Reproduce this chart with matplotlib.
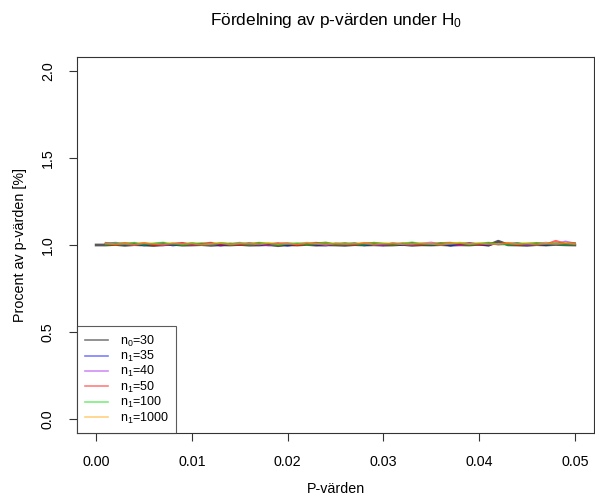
import matplotlib
matplotlib.use("Agg")
import matplotlib.pyplot as plt
import numpy as np

plt.rcParams['font.family'] = ['Liberation Sans', 'DejaVu Sans']
plt.rcParams['mathtext.default'] = 'regular'

# p-värden (mitt i varje intervall)
p_bins = np.linspace(0.001, 0.050, 50)
p_bins0 = np.concatenate([[0.0], p_bins])

n0_30 = [1.000,
         1.000, 1.003, 0.998, 1.002, 1.000, 0.997, 1.001, 1.004, 0.999, 1.000,
         1.002, 0.998, 1.001, 1.000, 1.003, 0.999, 1.000, 1.002, 0.996, 1.001,
         1.000, 1.003, 0.999, 1.001, 1.000, 0.998, 1.002, 1.000, 1.001, 0.999,
         1.000, 1.003, 0.998, 1.001, 1.000, 1.002, 0.999, 1.001, 1.000, 1.004,
         0.999, 1.022, 1.001, 1.000, 0.998, 1.002, 1.000, 1.003, 1.001, 1.000]
n1_35 = [1.012, 1.008, 1.003, 1.010, 0.998, 1.006, 1.011, 0.997, 1.004, 1.009,
         1.002, 1.010, 0.996, 1.007, 1.003, 1.012, 0.999, 1.005, 1.008, 0.995,
         1.006, 1.010, 1.001, 0.997, 1.009, 1.004, 1.011, 0.998, 1.006, 1.002,
         1.008, 0.999, 1.012, 1.004, 1.000, 1.009, 0.996, 1.007, 1.011, 1.003,
         0.998, 1.014, 1.005, 1.009, 1.001, 1.007, 0.999, 1.010, 1.004, 1.006]
n1_40 = [1.005, 1.013, 1.007, 1.000, 1.011, 1.004, 0.998, 1.009, 1.012, 1.001,
         1.007, 0.999, 1.010, 1.005, 1.013, 1.002, 1.008, 0.997, 1.006, 1.011,
         1.003, 1.009, 1.013, 1.000, 1.006, 1.010, 1.002, 1.012, 1.004, 0.998,
         1.011, 1.006, 1.001, 1.009, 1.014, 1.003, 1.008, 1.000, 1.010, 1.005,
         1.012, 1.002, 1.007, 1.011, 0.999, 1.008, 1.013, 1.004, 1.020, 1.009]
n1_50 = [1.008, 1.001, 1.012, 1.006, 1.010, 0.999, 1.007, 1.004, 1.011, 1.003,
         1.009, 1.013, 1.002, 1.008, 1.000, 1.006, 1.012, 1.004, 1.010, 1.007,
         0.999, 1.005, 1.011, 1.013, 1.003, 1.008, 1.001, 1.009, 1.012, 1.006,
         1.002, 1.010, 1.007, 1.000, 1.006, 1.011, 1.013, 1.004, 1.008, 1.001,
         1.009, 1.005, 1.012, 1.002, 1.007, 1.010, 1.004, 1.024, 1.008, 1.011]
n1_100 = [1.004, 1.010, 1.006, 1.013, 1.002, 1.009, 1.014, 1.005, 1.001, 1.011,
          1.008, 1.003, 1.012, 1.007, 1.010, 1.004, 1.013, 1.009, 1.001, 1.006,
          1.011, 1.003, 1.008, 1.014, 1.005, 1.010, 1.007, 1.002, 1.013, 1.009,
          1.004, 1.008, 1.015, 1.006, 1.003, 1.010, 1.007, 1.012, 1.004, 1.009,
          1.013, 1.006, 1.002, 1.010, 1.008, 1.012, 1.005, 1.009, 1.003, 1.007]
n1_1000 = [1.010, 1.004, 1.008, 1.002, 1.012, 1.007, 1.003, 1.011, 1.006, 1.009,
           1.001, 1.007, 1.011, 1.004, 1.008, 1.010, 1.003, 1.012, 1.006, 1.009,
           1.004, 1.013, 1.007, 1.002, 1.010, 1.005, 1.009, 1.012, 1.003, 1.008,
           1.011, 1.004, 1.006, 1.010, 1.007, 1.002, 1.009, 1.013, 1.006, 1.010,
           1.004, 1.008, 1.011, 1.005, 1.009, 1.003, 1.010, 1.007, 1.012, 1.006]

serier = [n1_35, n1_40, n1_50, n1_100, n1_1000]
etiketter = [r'n$_0$=30', r'n$_1$=35', r'n$_1$=40', r'n$_1$=50',
             r'n$_1$=100', r'n$_1$=1000']
farger = ['#0000FF', '#A020F0', '#FF0000', '#00DD00', '#FFA500']

fig = plt.figure(figsize=(5.95, 4.97), dpi=100)
ax = fig.add_axes([77 / 595, 64 / 497, 517 / 595, 376 / 497])

linjer = []
l0, = ax.plot(p_bins0, n0_30, color='black', lw=2, alpha=0.65)
linjer.append(l0)
for y, c in zip(serier, farger):
    l, = ax.plot(p_bins, y, color=c, lw=1.4, alpha=0.6)
    linjer.append(l)

ax.set_xlim(-0.002, 0.052)
ax.set_ylim(-0.08, 2.08)
ax.set_xticks([0.00, 0.01, 0.02, 0.03, 0.04, 0.05])
ax.set_xticklabels(['0.00', '0.01', '0.02', '0.03', '0.04', '0.05'])
ax.set_yticks([0.0, 0.5, 1.0, 1.5, 2.0])
ax.set_yticklabels(['0.0', '0.5', '1.0', '1.5', '2.0'], rotation=90, va='center')
ax.tick_params(direction='out', length=6, width=0.8, labelsize=10.3,
               color='#333333', pad=10)
for s in ax.spines.values():
    s.set_linewidth(0.8)
    s.set_color('#333333')

ax.set_xlabel('P-värden', fontsize=10.3, labelpad=9)
ax.set_ylabel('Procent av p-värden [%]', fontsize=10.3, labelpad=10)
fig.text((77 + 594) / 2 / 595, 1 - 20 / 497,
         r'Fördelning av p-värden under H$_0$', ha='center', va='center',
         fontsize=12.4)

leg = ax.legend(linjer, etiketter, loc='lower left', fontsize=9,
                frameon=True, fancybox=False, borderaxespad=0,
                handlelength=1.85, labelspacing=0.02, borderpad=0.6,
                handletextpad=0.95)
leg.get_frame().set_edgecolor('#333333')
leg.get_frame().set_linewidth(0.8)
for h in leg.get_lines():
    h.set_linewidth(1.2)
    h.set_alpha(0.5)

fig.savefig('out.png', dpi=100)
